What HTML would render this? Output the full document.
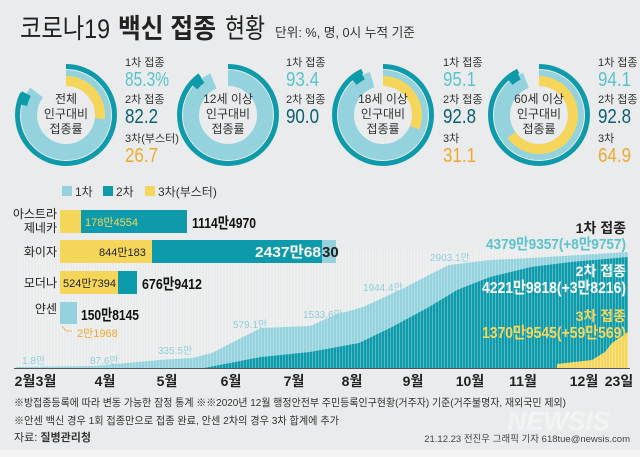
<!DOCTYPE html>
<html><head><meta charset="utf-8"><style>
html,body{margin:0;padding:0;background:#e9ebec;}
svg{display:block;font-family:"Liberation Sans","Noto Sans CJK KR",sans-serif;}
</style></head><body>
<svg width="640" height="457" viewBox="0 0 640 457" xmlns="http://www.w3.org/2000/svg">
<defs>
<pattern id="st" width="3" height="10" patternUnits="userSpaceOnUse"><rect x="0" y="0" width="1" height="10" fill="#ffffff" opacity="0.28"/></pattern>
</defs>
<rect width="640" height="457" fill="#e9ebec"/>
<text x="20" y="38" font-size="27" fill="#222" textLength="90" lengthAdjust="spacingAndGlyphs">코로나19</text>
<text x="118" y="38" font-size="27" font-weight="bold" fill="#222" textLength="98" lengthAdjust="spacingAndGlyphs">백신 접종</text>
<text x="225" y="38" font-size="27" fill="#222" textLength="40" lengthAdjust="spacingAndGlyphs">현황</text>
<text x="275" y="37" font-size="13" fill="#333" textLength="140" lengthAdjust="spacingAndGlyphs">단위: %, 명, 0시 누적 기준</text>

<g transform="translate(66,115) rotate(-90)">
 <circle r="37" fill="none" stroke="#94d3de" stroke-width="16" stroke-dasharray="198.3 300"/>
 <circle r="34" fill="none" stroke="#f5d65a" stroke-width="10" stroke-dasharray="57.0 300"/>
 <circle r="48.5" fill="none" stroke="#0d9aaa" stroke-width="5" stroke-dasharray="250.5 400"/>
 <circle r="45" fill="none" stroke="#0d9aaa" stroke-width="10" stroke-dasharray="0 222 12 400"/>
</g>
<g transform="translate(228,115) rotate(-90)">
 <circle r="37" fill="none" stroke="#94d3de" stroke-width="16" stroke-dasharray="217.1 300"/>
 <circle r="48.5" fill="none" stroke="#0d9aaa" stroke-width="5" stroke-dasharray="274.3 400"/>
 <circle r="45" fill="none" stroke="#0d9aaa" stroke-width="10" stroke-dasharray="0 243 11 400"/>
</g>
<g transform="translate(383,115) rotate(-90)">
 <circle r="37" fill="none" stroke="#94d3de" stroke-width="16" stroke-dasharray="221.1 300"/>
 <circle r="34" fill="none" stroke="#f5d65a" stroke-width="10" stroke-dasharray="66.4 300"/>
 <circle r="48.5" fill="none" stroke="#0d9aaa" stroke-width="5" stroke-dasharray="282.8 400"/>
 <circle r="45" fill="none" stroke="#0d9aaa" stroke-width="10" stroke-dasharray="0 250 11 400"/>
</g>
<g transform="translate(539,115) rotate(-90)">
 <circle r="37" fill="none" stroke="#94d3de" stroke-width="16" stroke-dasharray="218.8 300"/>
 <circle r="34" fill="none" stroke="#f5d65a" stroke-width="10" stroke-dasharray="138.6 300"/>
 <circle r="48.5" fill="none" stroke="#0d9aaa" stroke-width="5" stroke-dasharray="282.8 400"/>
 <circle r="45" fill="none" stroke="#0d9aaa" stroke-width="10" stroke-dasharray="0 250 11 400"/>
</g>
<g font-size="12" fill="#333" text-anchor="middle">
 <text x="66" y="103">전체</text><text x="66" y="118">인구대비</text><text x="66" y="133">접종률</text>
 <text x="228" y="103">12세 이상</text><text x="228" y="118">인구대비</text><text x="228" y="133">접종률</text>
 <text x="383" y="103">18세 이상</text><text x="383" y="118">인구대비</text><text x="383" y="133">접종률</text>
 <text x="539" y="103">60세 이상</text><text x="539" y="118">인구대비</text><text x="539" y="133">접종률</text>
</g>
<g font-size="11" fill="#333">
 <text x="125" y="66">1차 접종</text><text x="125" y="103">2차 접종</text><text x="125" y="142">3차(부스터)</text>
 <text x="286" y="66">1차 접종</text><text x="286" y="103">2차 접종</text>
 <text x="443" y="66">1차 접종</text><text x="443" y="103">2차 접종</text><text x="443" y="142">3차</text>
 <text x="598" y="66">1차 접종</text><text x="598" y="103">2차 접종</text><text x="598" y="142">3차</text>
</g>
<g font-size="20">
 <text x="125" y="86" fill="#5bc3cc" textLength="44" lengthAdjust="spacingAndGlyphs">85.3%</text>
 <text x="125" y="123" fill="#0b5e73" textLength="33" lengthAdjust="spacingAndGlyphs">82.2</text>
 <text x="125" y="162" fill="#f0a92c" textLength="33" lengthAdjust="spacingAndGlyphs">26.7</text>
 <text x="286" y="86" fill="#5bc3cc" textLength="33" lengthAdjust="spacingAndGlyphs">93.4</text>
 <text x="286" y="123" fill="#0b5e73" textLength="33" lengthAdjust="spacingAndGlyphs">90.0</text>
 <text x="443" y="86" fill="#5bc3cc" textLength="33" lengthAdjust="spacingAndGlyphs">95.1</text>
 <text x="443" y="123" fill="#0b5e73" textLength="33" lengthAdjust="spacingAndGlyphs">92.8</text>
 <text x="443" y="162" fill="#f0a92c" textLength="33" lengthAdjust="spacingAndGlyphs">31.1</text>
 <text x="598" y="86" fill="#5bc3cc" textLength="33" lengthAdjust="spacingAndGlyphs">94.1</text>
 <text x="598" y="123" fill="#0b5e73" textLength="33" lengthAdjust="spacingAndGlyphs">92.8</text>
 <text x="598" y="162" fill="#f0a92c" textLength="33" lengthAdjust="spacingAndGlyphs">64.9</text>
</g>

<rect x="62" y="186" width="10" height="10" fill="#94d3de"/><text x="75" y="196" font-size="12" fill="#333">1차</text>
<rect x="103" y="186" width="10" height="10" fill="#0d9aaa"/><text x="116" y="196" font-size="12" fill="#333">2차</text>
<rect x="145" y="186" width="10" height="10" fill="#f5d65a"/><text x="158" y="196" font-size="12" fill="#333">3차(부스터)</text>

<path d="M16,367 L94,366 L159,360 L192,358 L212,353 L237,340 L261,328 L310,326 L335,315 L363,307 L404,288 L429,275 L449,265 L490,260 L531,258 L628,252 L628,368 L16,368 Z" fill="#94d3de"/>
<path d="M204,368 L261,357 L310,352 L359,343 L392,327 L429,307 L457,290 L490,277 L531,267 L571,262 L628,257 L628,368 Z" fill="#0d9aaa"/>
<path d="M557,368 L557,364 L592,360 L605,352 L612,343 L628,332 L628,368 Z" fill="#f5d65a"/>
<rect x="16" y="250" width="612" height="118" fill="url(#st)"/>
<line x1="14" y1="368.5" x2="630" y2="368.5" stroke="#555" stroke-width="1"/>
<g font-size="10" fill="#8fcfd8">
 <text x="22" y="364">1.8만</text><text x="90" y="364">87.6만</text><text x="158" y="354">335.5만</text>
 <text x="233" y="328">579.1만</text><text x="303" y="318">1533.6만</text><text x="363" y="291">1944.4만</text><text x="430" y="261">2903.1만</text>
</g>

<g font-size="12" fill="#222" text-anchor="end">
 <text x="57" y="218">아스트라</text><text x="57" y="232">제네카</text>
 <text x="57" y="256">화이자</text><text x="57" y="287">모더나</text><text x="57" y="313">얀센</text>
</g>
<rect x="60" y="210" width="21" height="23" fill="#f5d65a"/><rect x="81" y="210" width="106" height="23" fill="#0d9aaa"/>
<rect x="60" y="240" width="92" height="23" fill="#f5d65a"/><rect x="152" y="240" width="170" height="23" fill="#0d9aaa"/><rect x="322" y="240" width="14" height="23" fill="#94d3de"/>
<rect x="60" y="271" width="58" height="23" fill="#f5d65a"/><rect x="118" y="271" width="19" height="23" fill="#0d9aaa"/>
<rect x="60" y="302" width="17" height="22" fill="#94d3de"/>
<path d="M62,326 L66,331 L72,331" fill="none" stroke="#f0a92c" stroke-width="0.8"/>
<text x="85" y="226" font-size="11" fill="#f5d65a">178만4554</text>
<text x="99" y="256" font-size="11" fill="#222">844만183</text>
<text x="321" y="257" font-size="15" font-weight="bold" fill="#fff" text-anchor="end" textLength="66" lengthAdjust="spacingAndGlyphs">2437만68</text>
<text x="322" y="257" font-size="15" font-weight="bold" fill="#222">30</text>
<text x="63" y="287" font-size="11" fill="#222">524만7394</text>
<text x="192" y="228" font-size="15" font-weight="bold" fill="#111" textLength="64" lengthAdjust="spacingAndGlyphs">1114만4970</text>
<text x="142" y="289" font-size="15" font-weight="bold" fill="#111" textLength="60" lengthAdjust="spacingAndGlyphs">676만9412</text>
<text x="81" y="320" font-size="15" font-weight="bold" fill="#111" textLength="58" lengthAdjust="spacingAndGlyphs">150만8145</text>
<text x="77" y="337" font-size="11" fill="#f0a92c">2만1968</text>

<g text-anchor="end">
 <text x="626" y="233" font-size="14" font-weight="bold" fill="#222">1차 접종</text>
 <text x="626" y="249" font-size="15" font-weight="bold" fill="#5bc3cc" textLength="140" lengthAdjust="spacingAndGlyphs">4379만9357(+8만9757)</text>
 <text x="626" y="276" font-size="14" font-weight="bold" fill="#fff">2차 접종</text>
 <text x="626" y="293" font-size="16" font-weight="bold" fill="#fff" textLength="144" lengthAdjust="spacingAndGlyphs">4221만9818(+3만8216)</text>
 <text x="626" y="321" font-size="14" font-weight="bold" fill="#f5d65a">3차 접종</text>
 <text x="626" y="338" font-size="16" font-weight="bold" fill="#f5d65a" textLength="144" lengthAdjust="spacingAndGlyphs">1370만9545(+59만569)</text>
</g>

<g font-size="14" font-weight="bold" fill="#222" text-anchor="middle">
 <text x="25" y="386">2월</text><text x="46" y="386">3월</text><text x="105" y="386">4월</text><text x="167" y="386">5월</text>
 <text x="231" y="386">6월</text><text x="294" y="386">7월</text><text x="352" y="386">8월</text><text x="413" y="386">9월</text>
 <text x="470" y="386">10월</text><text x="523" y="386">11월</text><text x="584" y="386">12월</text><text x="619" y="386">23일</text>
</g>

<text x="14" y="406" font-size="10.5" fill="#333" textLength="552" lengthAdjust="spacingAndGlyphs">※방접종등록에 따라 변동 가능한 잠정 통계 ※※2020년 12월 행정안전부 주민등록인구현황(거주자) 기준(거주불명자, 재외국민 제외)</text>
<text x="14" y="424" font-size="10.5" fill="#333" textLength="325" lengthAdjust="spacingAndGlyphs">※안센 백신 경우 1회 접종만으로 접종 완료, 안센 2차의 경우 3차 합계에 추가</text>
<text x="14" y="441" font-size="11" fill="#333">자료: <tspan font-weight="bold">질병관리청</tspan></text>
<text x="610" y="430" font-size="26" font-weight="bold" fill="#ffffff" opacity="0.45" text-anchor="end" font-style="italic">NEWSIS</text>
<text x="630" y="442" font-size="9.5" fill="#444" text-anchor="end">21.12.23 전진우 그래픽 기자 618tue@newsis.com</text>
<rect x="0" y="450" width="640" height="7" fill="#f4f4f4"/>
</svg>
</body></html>
